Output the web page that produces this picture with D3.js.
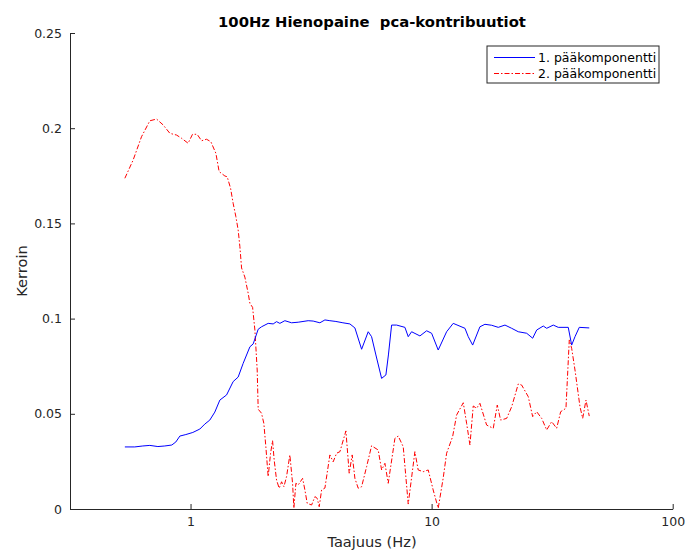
<!DOCTYPE html>
<html>
<head>
<meta charset="utf-8">
<script src="https://cdn.jsdelivr.net/npm/d3@7"></script>
<style>
  html, body { margin: 0; padding: 0; background: #fff; }
  svg { display: block; font-family: "DejaVu Sans", sans-serif; }
</style>
</head>
<body>
<svg id="chart" width="688" height="551"></svg>
<script>
// Frequencies (Hz) and coefficients of the 1st principal component
const freq1 = [0.534, 0.587, 0.634, 0.678, 0.732, 0.782, 0.836, 0.869, 0.903, 0.956,
  1.022, 1.093, 1.146, 1.202, 1.261, 1.323, 1.411, 1.502, 1.576, 1.653,
  1.763, 1.819, 1.908, 1.970, 2.099, 2.202, 2.274, 2.347, 2.462, 2.625,
  2.796, 3.076, 3.227, 3.440, 3.609, 3.784, 4.008, 4.285, 4.581, 4.806,
  5.124, 5.457, 5.636, 5.873, 6.202, 6.462, 6.619, 6.823, 7.157, 7.749,
  7.998, 8.260, 8.943, 9.535, 10.00, 10.65, 11.54, 12.29, 13.75, 14.19,
  14.80, 15.86, 16.64, 17.74, 18.90, 20.15, 21.48, 22.88, 24.79, 26.25,
  27.28, 29.05, 30.01, 31.96, 33.52, 36.88, 38.10, 39.33, 40.97, 45.07];
const comp1 = [0.0326, 0.0326, 0.0331, 0.0334, 0.0328, 0.0331, 0.0336, 0.0352, 0.0383, 0.0391,
  0.0402, 0.0420, 0.0446, 0.0467, 0.0509, 0.0572, 0.0599, 0.0669, 0.0693, 0.0765,
  0.0852, 0.0867, 0.0944, 0.0957, 0.0975, 0.0972, 0.0984, 0.0975, 0.0989, 0.0978,
  0.0981, 0.0989, 0.0987, 0.0978, 0.0993, 0.0989, 0.0985, 0.0978, 0.0972, 0.0951,
  0.0839, 0.0931, 0.0905, 0.0809, 0.0686, 0.0704, 0.0809, 0.0966, 0.0966, 0.0954,
  0.0905, 0.0931, 0.0909, 0.0936, 0.0923, 0.0835, 0.0931, 0.0975, 0.0949, 0.0905,
  0.0861, 0.0957, 0.0970, 0.0965, 0.0954, 0.0966, 0.0949, 0.0931, 0.0923, 0.0897,
  0.0940, 0.0961, 0.0949, 0.0966, 0.0954, 0.0954, 0.0861, 0.0905, 0.0954, 0.0951];

// Frequencies (Hz) and coefficients of the 2nd principal component
const freq2 = [0.534, 0.578, 0.626, 0.678, 0.723, 0.770, 0.821, 0.875, 0.918, 0.977,
  1.019, 1.065, 1.111, 1.165, 1.214, 1.274, 1.314, 1.388, 1.419, 1.466,
  1.502, 1.542, 1.576, 1.602, 1.628, 1.680, 1.734, 1.763, 1.809, 1.849,
  1.890, 1.908, 1.970, 2.014, 2.053, 2.099, 2.148, 2.189, 2.223, 2.274,
  2.332, 2.386, 2.439, 2.502, 2.582, 2.650, 2.683, 2.735, 2.796, 2.916,
  2.981, 3.047, 3.178, 3.281, 3.353, 3.418, 3.497, 3.609, 3.784, 3.906,
  4.035, 4.165, 4.410, 4.551, 4.683, 4.806, 4.960, 5.124, 5.374, 5.636,
  6.003, 6.202, 6.401, 6.607, 7.043, 7.269, 7.625, 7.998, 8.523, 8.796,
  9.229, 9.681, 10.15, 10.65, 11.17, 11.54, 12.22, 12.70, 13.53, 13.97,
  14.42, 14.88, 15.37, 15.86, 16.91, 17.46, 18.02, 18.72, 19.33, 20.48,
  21.48, 22.88, 23.63, 25.17, 26.25, 27.28, 28.61, 30.01, 31.47, 33.01,
  34.30, 36.08, 37.24, 38.10, 39.33, 41.25, 42.33, 43.68, 45.07];
const comp2 = [0.1737, 0.1833, 0.1955, 0.2039, 0.2048, 0.2017, 0.1973, 0.1964, 0.1947, 0.1921,
  0.1968, 0.1968, 0.1934, 0.1942, 0.1929, 0.1868, 0.1772, 0.1749, 0.1745, 0.1684,
  0.1606, 0.1535, 0.1465, 0.1378, 0.1266, 0.1218, 0.1133, 0.1080, 0.1059, 0.0940,
  0.0730, 0.0524, 0.0503, 0.0450, 0.0327, 0.0170, 0.0293, 0.0359, 0.0257, 0.0152,
  0.0109, 0.0143, 0.0117, 0.0170, 0.0284, 0.0135, 0.0004, 0.0135, 0.0126, 0.0161,
  0.0100, 0.0030, 0.0021, 0.0065, 0.0056, 0.0012, 0.0100, 0.0110, 0.0284, 0.0248,
  0.0293, 0.0301, 0.0410, 0.0188, 0.0284, 0.0161, 0.0109, 0.0117, 0.0222, 0.0332,
  0.0310, 0.0205, 0.0240, 0.0135, 0.0371, 0.0383, 0.0327, 0.0026, 0.0301, 0.0205,
  0.0196, 0.0205, 0.0100, 0.0004, 0.0163, 0.0293, 0.0380, 0.0494, 0.0558, 0.0450,
  0.0336, 0.0541, 0.0529, 0.0555, 0.0441, 0.0432, 0.0424, 0.0546, 0.0467, 0.0476,
  0.0537, 0.0657, 0.0651, 0.0590, 0.0485, 0.0511, 0.0476, 0.0415, 0.0459, 0.0424,
  0.0511, 0.0529, 0.0888, 0.0844, 0.0730, 0.0537, 0.0476, 0.0572, 0.0488];

const xTicks = [1, 10, 100];
const yTicks = [0, 0.05, 0.1, 0.15, 0.2, 0.25];
const seriesNames = ["1. pääkomponentti", "2. pääkomponentti"];
const titleText = "100Hz Hienopaine  pca-kontribuutiot";
const xLabel = "Taajuus (Hz)";
const yLabel = "Kerroin";

const svg = d3.select("#chart");
const axisColor = "#262626";

const x = d3.scaleLog().domain([Math.pow(10, -0.5), 100]).range([70, 672.7]);
const y = d3.scaleLinear().domain([0, 0.25]).range([509, 33]);

// Axes with inward ticks
const xAxis = d3.axisBottom(x).tickValues(xTicks).tickFormat(d3.format("d"))
  .tickSizeInner(-5).tickSizeOuter(0).tickPadding(10);
const yAxis = d3.axisLeft(y).tickValues(yTicks).tickFormat(d => d === 0 ? "0" : String(+d.toFixed(2)))
  .tickSizeInner(-5).tickSizeOuter(0).tickPadding(8);

const gx = svg.append("g").attr("transform", "translate(0,509)").call(xAxis);
const gy = svg.append("g").attr("transform", "translate(70,0)").call(yAxis);

[gx, gy].forEach(g => {
  g.select(".domain").attr("stroke", axisColor).attr("stroke-width", 1);
  g.selectAll(".tick line").attr("stroke", axisColor).attr("stroke-width", 1);
  g.selectAll(".tick text").attr("fill", axisColor)
    .style("font-family", "DejaVu Sans, sans-serif").style("font-size", "12.5px");
});
gx.selectAll(".tick text").attr("dy", "0.71em").attr("y", 8);

// Series lines
const line = d3.line().x(d => x(d[0])).y(d => y(d[1]));
const data1 = freq1.map((f, i) => [f, comp1[i]]);
const data2 = freq2.map((f, i) => [f, comp2[i]]);

svg.append("path").datum(data2)
  .attr("d", line).attr("fill", "none")
  .attr("stroke", "#ff0000").attr("stroke-width", 1)
  .attr("stroke-dasharray", "5,2,1.5,2");

svg.append("path").datum(data1)
  .attr("d", line).attr("fill", "none")
  .attr("stroke", "#0000ff").attr("stroke-width", 1);

// Title and axis labels
svg.append("text").attr("x", 372).attr("y", 27)
  .attr("text-anchor", "middle").style("white-space", "pre")
  .style("font-size", "14.8px").style("font-weight", "bold").attr("fill", "#000")
  .text(titleText);

svg.append("text").attr("x", 372).attr("y", 547)
  .attr("text-anchor", "middle").style("font-size", "14.6px").attr("fill", axisColor)
  .text(xLabel);

svg.append("text").attr("transform", "translate(27,271) rotate(-90)")
  .attr("text-anchor", "middle").style("font-size", "14.6px").attr("fill", axisColor)
  .text(yLabel);

// Legend
const legend = svg.append("g");
legend.append("rect").attr("x", 487).attr("y", 46).attr("width", 172).attr("height", 37)
  .attr("fill", "#fff").attr("stroke", axisColor).attr("stroke-width", 1);
const legendStyles = [
  { color: "#0000ff", dash: null },
  { color: "#ff0000", dash: "5,2,1.5,2" }
];
seriesNames.forEach((name, i) => {
  const ly = 57.5 + i * 16;
  legend.append("line").attr("x1", 494).attr("x2", 535).attr("y1", ly).attr("y2", ly)
    .attr("stroke", legendStyles[i].color).attr("stroke-width", 1)
    .attr("stroke-dasharray", legendStyles[i].dash);
  legend.append("text").attr("x", 538).attr("y", ly).attr("dy", "0.35em")
    .style("font-size", "12.5px").attr("fill", "#000").text(name);
});
</script>
</body>
</html>
